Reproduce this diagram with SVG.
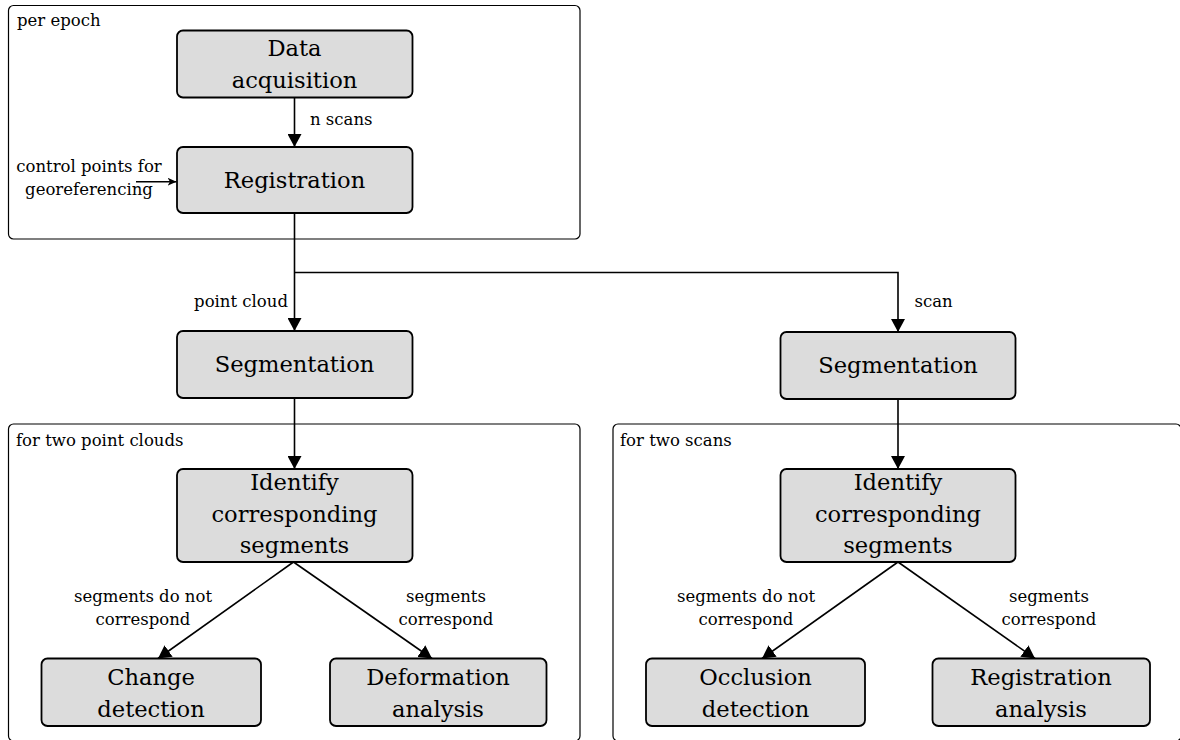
<svg xmlns="http://www.w3.org/2000/svg" width="1180" height="740" viewBox="0 0 1180 740">
  <style>
    .frame { fill: none; stroke: #000; stroke-width: 1.2; }
    .node rect { fill: #dcdcdc; stroke: #000; stroke-width: 1.8; }
    .node text { font-family: "DejaVu Serif", "Liberation Serif", serif; font-size: 22.6px; fill: #000; text-anchor: middle; }
    .lbl { font-family: "DejaVu Serif", "Liberation Serif", serif; font-size: 16.5px; fill: #000; }
    .mid { text-anchor: middle; }
    .end { text-anchor: end; }
    .edge { fill: none; stroke: #000; stroke-width: 1.6; }
  </style>
  <defs>
    <marker id="tri" markerUnits="userSpaceOnUse" markerWidth="14" markerHeight="14" refX="13" refY="7" orient="auto">
      <path d="M0,0 L13,7 L0,14 z" fill="#000"/>
    </marker>
    <marker id="stealth" markerUnits="userSpaceOnUse" markerWidth="10" markerHeight="8" refX="9" refY="4" orient="auto">
      <path d="M0,0 L9,4 L0,8 L2.5,4 z" fill="#000"/>
    </marker>
  </defs>

  <rect width="1180" height="740" fill="#fff"/>

  <!-- grouping frames -->
  <g id="frames">
    <rect class="frame" x="8.5" y="5.5" width="571.5" height="233.5" rx="5"/>
    <text class="lbl" x="17" y="26">per epoch</text>
    <rect class="frame" x="8.5" y="424" width="571.5" height="317" rx="5"/>
    <text class="lbl" x="16" y="446">for two point clouds</text>
    <rect class="frame" x="613" y="424" width="568" height="317" rx="5"/>
    <text class="lbl" x="620" y="446">for two scans</text>
  </g>

  <!-- connectors -->
  <g id="connectors">
    <line class="edge" x1="294.5" y1="97.5" x2="294.5" y2="147" marker-end="url(#tri)"/>
    <text class="lbl" x="310" y="125">n scans</text>

    <line class="edge" x1="136" y1="181.7" x2="176.5" y2="181.7" stroke-width="1.3" marker-end="url(#stealth)"/>
    <text class="lbl mid" x="89" y="172">control points for</text>
    <text class="lbl mid" x="89" y="195">georeferencing</text>

    <path class="edge" d="M294.5,213 V331" marker-end="url(#tri)"/>
    <path class="edge" d="M294.5,272.5 H898 V332" marker-end="url(#tri)"/>
    <text class="lbl end" x="288" y="307">point cloud</text>
    <text class="lbl" x="914.5" y="307">scan</text>

    <line class="edge" x1="294.5" y1="398" x2="294.5" y2="469" marker-end="url(#tri)"/>
    <line class="edge" x1="898" y1="399" x2="898" y2="469" marker-end="url(#tri)"/>

    <line class="edge" x1="293.5" y1="562" x2="158" y2="658.5" marker-end="url(#tri)"/>
    <line class="edge" x1="293.5" y1="562" x2="432" y2="658.5" marker-end="url(#tri)"/>
    <text class="lbl mid" x="143" y="602">segments do not</text>
    <text class="lbl mid" x="143" y="625">correspond</text>
    <text class="lbl mid" x="446" y="602">segments</text>
    <text class="lbl mid" x="446" y="625">correspond</text>

    <line class="edge" x1="898" y1="562" x2="762" y2="658.5" marker-end="url(#tri)"/>
    <line class="edge" x1="898" y1="562" x2="1035" y2="658.5" marker-end="url(#tri)"/>
    <text class="lbl mid" x="746" y="602">segments do not</text>
    <text class="lbl mid" x="746" y="625">correspond</text>
    <text class="lbl mid" x="1049" y="602">segments</text>
    <text class="lbl mid" x="1049" y="625">correspond</text>
  </g>

  <!-- process nodes -->
  <g id="data-acquisition" class="node">
    <rect x="177" y="30.5" width="235.5" height="67" rx="6"/>
    <text x="294.5" y="56">Data</text>
    <text x="294.5" y="88">acquisition</text>
  </g>
  <g id="registration" class="node">
    <rect x="177" y="147" width="235.5" height="66" rx="6"/>
    <text x="294.5" y="188">Registration</text>
  </g>
  <g id="segmentation-cloud" class="node">
    <rect x="177" y="331" width="235.5" height="67" rx="6"/>
    <text x="294.5" y="372">Segmentation</text>
  </g>
  <g id="segmentation-scan" class="node">
    <rect x="780.5" y="332" width="235" height="67" rx="6"/>
    <text x="898" y="373">Segmentation</text>
  </g>
  <g id="identify-cloud" class="node">
    <rect x="177" y="469" width="235.5" height="93" rx="6"/>
    <text x="294.5" y="490">Identify</text>
    <text x="294.5" y="521.5">corresponding</text>
    <text x="294.5" y="553">segments</text>
  </g>
  <g id="identify-scan" class="node">
    <rect x="780.5" y="469" width="235" height="93" rx="6"/>
    <text x="898" y="490">Identify</text>
    <text x="898" y="521.5">corresponding</text>
    <text x="898" y="553">segments</text>
  </g>
  <g id="change-detection" class="node">
    <rect x="41.5" y="658.5" width="219.5" height="67.5" rx="6"/>
    <text x="151" y="685">Change</text>
    <text x="151" y="717">detection</text>
  </g>
  <g id="deformation-analysis" class="node">
    <rect x="330" y="658.5" width="216.5" height="67.5" rx="6"/>
    <text x="438" y="685">Deformation</text>
    <text x="438" y="717">analysis</text>
  </g>
  <g id="occlusion-detection" class="node">
    <rect x="646" y="658.5" width="219" height="67.5" rx="6"/>
    <text x="755.5" y="685">Occlusion</text>
    <text x="755.5" y="717">detection</text>
  </g>
  <g id="registration-analysis" class="node">
    <rect x="932.5" y="658.5" width="217.5" height="67.5" rx="6"/>
    <text x="1041" y="685">Registration</text>
    <text x="1041" y="717">analysis</text>
  </g>
</svg>
